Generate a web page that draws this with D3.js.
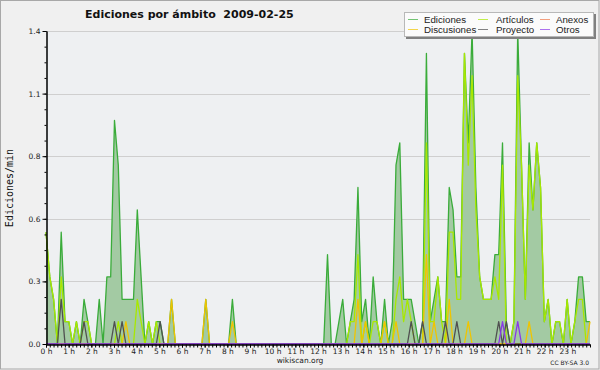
<!DOCTYPE html>
<html>
<head>
<meta charset="utf-8">
<script src="https://d3js.org/d3.v7.min.js"></script>
<style>
body { margin: 0; background: #f0f0f0; }
svg text { font-family: "DejaVu Sans", sans-serif; }
</style>
</head>
<body>
<svg id="chart" width="600" height="370"></svg>
<script>
// edits per minute, one value per 10-minute bin (00:00 ... 23:50), 4 hours per row
var ediciones = [
  0.5,0.3,0.2,0,0.5,0.1, 0.1,0,0.1,0,0.2,0.1, 0,0,0.2,0,0.3,0.3, 1.0,0.8,0.2,0.2,0.2,0.2,
  0.6,0.3,0,0.1,0,0.1, 0.1,0,0,0.2,0,0, 0,0,0,0,0,0, 0.2,0,0,0,0,0,
  0,0.2,0,0,0,0, 0,0,0,0,0,0, 0,0,0,0,0,0, 0,0,0,0,0,0,
  0,0,0.4,0,0,0.1, 0.2,0,0.1,0.2,0.7,0.1, 0.2,0,0.3,0.1,0,0.2, 0,0.1,0.8,0.9,0.2,0.2,
  0.2,0.1,0,0.1,1.3,0.1, 0.2,0.3,0.1,0.1,0.7,0.6, 0.3,0.3,1.3,0.9,1.4,0.7, 0.3,0.2,0.2,0.2,0.4,0.4,
  0.9,0.1,0,0.1,1.4,0.8, 0.2,0.9,0.6,0.9,0.7,0.1, 0.2,0,0.1,0.1,0,0.2, 0,0.1,0.3,0.3,0.1,0.1
];
var articulos = [
  0.5,0.3,0.2,0,0.3,0.1, 0.1,0,0.1,0,0.1,0.1, 0,0,0,0,0,0, 0,0.1,0,0,0,0,
  0.2,0.1,0,0.1,0,0.1, 0,0,0,0,0,0, 0,0,0,0,0,0, 0,0,0,0,0,0,
  0,0,0,0,0,0, 0,0,0,0,0,0, 0,0,0,0,0,0, 0,0,0,0,0,0,
  0,0,0,0,0,0, 0,0,0.1,0.1,0.4,0, 0.1,0,0.1,0.1,0,0.1, 0,0,0.2,0.3,0.1,0.2,
  0.1,0,0,0,0.9,0.1, 0.1,0.3,0.1,0,0.5,0.5, 0.2,0.2,1.3,0.8,1.2,0.6, 0.3,0.2,0.2,0.2,0.3,0.2,
  0.8,0,0,0.1,1.2,0.8, 0.2,0.8,0.6,0.9,0.7,0.1, 0.2,0,0.1,0.1,0,0.2, 0,0.1,0.2,0.2,0,0
];
var anexos = [
  0,0,0,0,0,0, 0,0,0,0,0,0, 0,0,0,0,0,0, 0,0,0,0,0,0,
  0,0,0,0,0,0, 0,0,0,0,0,0, 0,0,0,0,0,0, 0,0,0,0,0,0,
  0,0,0,0,0,0, 0,0,0,0,0,0, 0,0,0,0,0,0, 0,0,0,0,0,0,
  0,0,0,0,0,0, 0,0,0,0,0,0, 0,0,0,0,0,0, 0,0,0,0,0,0,
  0,0,0,0,0,0, 0,0,0,0,0,0, 0,0,0,0,0,0, 0,0,0,0,0,0,
  0,0,0,0,0,0, 0,0,0,0,0,0, 0,0,0,0,0,0, 0,0,0,0,0,0
];
var discusiones = [
  0,0,0,0,0,0, 0,0,0,0,0,0, 0,0,0,0,0,0, 0,0,0,0.1,0,0,
  0,0,0,0,0,0, 0,0,0,0.2,0,0, 0,0,0,0,0,0, 0.2,0,0,0,0,0,
  0,0.1,0,0,0,0, 0,0,0,0,0,0, 0,0,0,0,0,0, 0,0,0,0,0,0,
  0,0,0,0,0,0, 0,0,0,0,0.2,0, 0.1,0,0,0,0,0.1, 0,0,0.1,0,0,0,
  0,0,0,0,0.4,0, 0.1,0,0,0,0.2,0, 0,0,0,0.1,0,0, 0,0,0,0,0,0,
  0,0,0,0,0,0, 0,0.1,0,0,0,0, 0,0,0,0,0,0, 0,0,0,0,0,0.1
];
var proyecto = [
  0,0,0,0,0.2,0, 0,0,0,0,0.1,0, 0,0,0,0,0,0, 0.1,0,0.1,0,0,0,
  0,0,0,0,0,0, 0.1,0,0,0,0,0, 0,0,0,0,0,0, 0,0,0,0,0,0,
  0,0,0,0,0,0, 0,0,0,0,0,0, 0,0,0,0,0,0, 0,0,0,0,0,0,
  0,0,0,0,0,0, 0,0,0,0,0,0, 0,0,0,0,0,0, 0,0,0,0,0,0,
  0.1,0,0,0.1,0,0, 0,0,0,0.1,0,0, 0.1,0,0,0,0,0, 0,0,0,0,0,0.1,
  0,0.1,0,0,0,0, 0,0,0,0,0,0, 0,0,0,0,0,0, 0,0,0,0,0,0
];
var otros = [
  0,0,0,0,0,0, 0,0,0,0,0,0, 0,0,0,0,0,0, 0,0,0,0,0,0,
  0,0,0,0,0,0, 0,0,0,0,0,0, 0,0,0,0,0,0, 0,0,0,0,0,0,
  0,0,0,0,0,0, 0,0,0,0,0,0, 0,0,0,0,0,0, 0,0,0,0,0,0,
  0,0,0,0,0,0, 0,0,0,0,0,0, 0,0,0,0,0,0, 0,0,0,0,0,0,
  0,0,0,0,0,0, 0,0,0,0,0,0, 0,0,0,0,0,0, 0,0,0,0,0,0,
  0.1,0,0,0,0.1,0, 0,0,0,0,0,0, 0,0,0,0,0,0, 0,0,0,0,0,0
];

var yTicks = [0, 0.28, 0.56, 0.84, 1.12, 1.4];
var hours = [0,1,2,3,4,5,6,7,8,9,10,11,12,13,14,15,16,17,18,19,20,21,22,23];

var legendNames = ["Ediciones", "Artículos", "Anexos", "Discusiones", "Proyecto", "Otros"];
var colors = ["#3aac3a", "#a8e800", "#f07848", "#f0c400", "#505050", "#8a38e8"];

var svg = d3.select('#chart');

svg.append('rect').attr('width', 600).attr('height', 370).attr('fill', '#f0f0f0');
svg.append('rect').attr('x', 0.5).attr('y', 0.5).attr('width', 598.5).attr('height', 368.5)
  .attr('fill', 'none').attr('stroke', '#a8a8a8');

var x = d3.scaleLinear().domain([0, 143]).range([46, 590]);
var xh = d3.scaleLinear().domain([0, 24]).range([46, 590]);
var y = d3.scaleLinear().domain([0, 1.4]).range([344, 31]);

svg.append('rect').attr('x', 46).attr('y', 31).attr('width', 544).attr('height', 313).attr('fill', '#eef0f2');

// grid lines
svg.append('g').selectAll('line').data(yTicks.slice(1)).join('line')
  .attr('x1', 46).attr('x2', 590)
  .attr('y1', function(d){ return Math.round(y(d)) + 0.5; })
  .attr('y2', function(d){ return Math.round(y(d)) + 0.5; })
  .attr('stroke', '#cfcfcf');

// Ediciones area
var area = d3.area().x(function(d, i){ return x(i); }).y0(y(0)).y1(function(d){ return y(d); });
var line = d3.line().x(function(d, i){ return x(i); }).y(function(d){ return y(d); });

svg.append('path').datum(ediciones).attr('d', area).attr('fill', '#a3caa3');

var series = [ediciones, articulos, anexos, discusiones, proyecto, otros];
series.forEach(function(s, k) {
  svg.append('path').datum(s).attr('d', line)
    .attr('fill', 'none').attr('stroke', colors[k])
    .attr('stroke-width', 1.3).attr('stroke-linejoin', 'round');
});

// axes
var yMinor = d3.range(0, 1.4001, 0.07);
svg.append('g').attr('transform', 'translate(46.5,0)')
  .call(d3.axisLeft(y).tickValues(yMinor).tickSize(2).tickSizeOuter(0).tickFormat(''));
var gy = svg.append('g').attr('transform', 'translate(46.5,0)')
  .call(d3.axisLeft(y).tickValues(yTicks).tickSize(4).tickSizeOuter(0).tickPadding(2)
    .tickFormat(d3.format('.1f')));
gy.selectAll('text').attr('font-size', 7.5).attr('fill', '#222');

var xMinor = d3.range(0, 24.001, 1/6);
svg.append('g').attr('transform', 'translate(0,344.5)')
  .call(d3.axisBottom(xh).tickValues(xMinor).tickSize(3).tickSizeOuter(0).tickFormat(''));
var gx = svg.append('g').attr('transform', 'translate(0,344.5)')
  .call(d3.axisBottom(xh).tickValues(hours).tickSize(3).tickSizeOuter(0).tickPadding(1)
    .tickFormat(function(d){ return d + ' h'; }));
gx.selectAll('text').attr('font-size', 7.5).attr('fill', '#222');
svg.selectAll('.domain').attr('stroke', '#000');
svg.selectAll('.tick line').attr('stroke', '#000');

// titles
svg.append('text').attr('x', 85).attr('y', 18)
  .style('white-space', 'pre')
  .attr('font-size', 11).attr('font-weight', 'bold').attr('fill', '#111')
  .text('Ediciones por ámbito  2009-02-25');

svg.append('text').attr('transform', 'translate(13,188) rotate(-90)')
  .attr('text-anchor', 'middle')
  .style('font-family', '"DejaVu Sans Mono", monospace')
  .attr('font-size', 10).attr('fill', '#111')
  .text('Ediciones/min');

svg.append('text').attr('x', 300).attr('y', 363).attr('text-anchor', 'middle')
  .attr('font-size', 7.5).attr('fill', '#222').text('wikiscan.org');
svg.append('text').attr('x', 589).attr('y', 365).attr('text-anchor', 'end')
  .attr('font-size', 6).attr('fill', '#222').text('CC BY-SA 3.0');

// legend
svg.append('rect').attr('x', 406).attr('y', 14).attr('width', 190).attr('height', 25).attr('fill', '#808080');
svg.append('rect').attr('x', 404.5).attr('y', 12.5).attr('width', 189).attr('height', 24)
  .attr('fill', '#fbfbfb').attr('stroke', '#b8b8b8');

var legX = [408, 478, 540];
var legTextX = [424, 496, 556];
var lg = svg.append('g').selectAll('g').data(legendNames).join('g')
  .attr('transform', function(d, i){
    var col = i % 3, row = Math.floor(i / 3);
    return 'translate(' + legX[col] + ',' + (19 + row * 10) + ')';
  });
lg.append('line').attr('x1', 0).attr('x2', 10).attr('y1', 0.5).attr('y2', 0.5)
  .attr('stroke', function(d, i){ return colors[i]; }).attr('stroke-opacity', 0.7);
lg.append('text')
  .attr('x', function(d, i){ return legTextX[i % 3] - legX[i % 3]; })
  .attr('y', 3.5)
  .style('font-family', '"Liberation Sans", sans-serif')
  .attr('font-size', 9.7).attr('fill', '#222')
  .text(function(d){ return d; });
</script>
</body>
</html>
